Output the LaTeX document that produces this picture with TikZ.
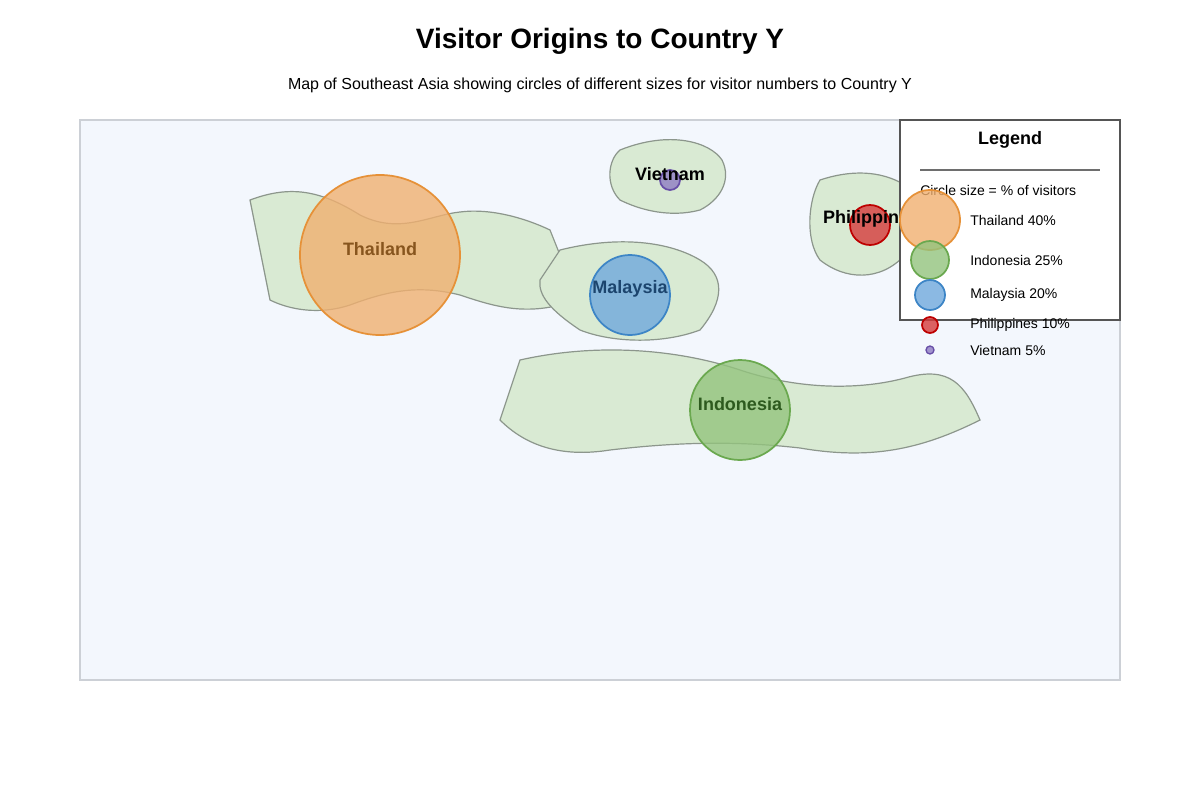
\documentclass[tikz,border=0pt]{standalone}
\usepackage{fontspec}
\setmainfont{Liberation Sans}
\begin{document}
\begin{tikzpicture}[x=0.75pt,y=-0.75pt,
  land/.style={fill={rgb,255:red,217;green,234;blue,211}, draw={rgb,255:red,140;green,150;blue,140}, line width=0.9pt},
  bub/.style={circle, draw, line width=1.3pt, fill opacity=0.8, inner sep=0pt},
  lbl/.style={font=\bfseries\fontsize{13.5}{16}\selectfont},
  leg/.style={font=\fontsize{10.5}{12}\selectfont, anchor=west}]
\definecolor{orF}{RGB}{240,176,112}\definecolor{orD}{RGB}{230,145,56}
\definecolor{grF}{RGB}{147,196,125}\definecolor{grD}{RGB}{106,168,79}
\definecolor{blF}{RGB}{111,168,220}\definecolor{blD}{RGB}{61,133,198}
\definecolor{rdF}{RGB}{214,60,60}\definecolor{rdD}{RGB}{190,0,0}
\definecolor{puF}{RGB}{142,124,195}\definecolor{puD}{RGB}{103,78,167}
\useasboundingbox (0,0) rectangle (1200,800);
\node[font=\bfseries\fontsize{21}{25}\selectfont] (title) at (600,41) {Visitor Origins to Country Y};
\node[font=\fontsize{12}{15}\selectfont] (sub) at (600,85) {Map of Southeast Asia showing circles of different sizes for visitor numbers to Country Y};
\draw[fill={rgb,255:red,243;green,247;blue,253}, draw={rgb,255:red,204;green,208;blue,214}, line width=1pt] (80,120) rectangle (1120,680);
% land
\draw[land] (250,200) .. controls (290,185) and (320,190) .. (360,215) .. controls (400,235) and (430,215) .. (460,212) .. controls (490,208) and (525,218) .. (550,230) -- (560,255) -- (560,305) .. controls (520,315) and (490,305) .. (460,295) .. controls (420,285) and (390,290) .. (350,305) .. controls (320,315) and (290,310) .. (270,300) -- cycle;
\draw[land] (560,250) .. controls (620,235) and (670,242) .. (700,260) .. controls (725,275) and (725,300) .. (700,330) .. controls (660,345) and (610,342) .. (580,330) .. controls (550,310) and (538,295) .. (540,280) -- cycle;
\draw[land] (620,150) .. controls (670,130) and (710,142) .. (722,160) .. controls (732,180) and (720,200) .. (700,210) .. controls (670,218) and (640,210) .. (620,200) .. controls (605,185) and (608,160) .. (620,150) -- cycle;
\draw[land] (820,180) .. controls (850,170) and (880,170) .. (905,185) -- (905,255) .. controls (880,282) and (845,280) .. (820,260) .. controls (805,240) and (808,200) .. (820,180) -- cycle;
\draw[land] (520,360) .. controls (600,342) and (680,350) .. (740,370) .. controls (800,390) and (860,390) .. (905,378) .. controls (950,365) and (965,385) .. (980,420) .. controls (920,450) and (870,460) .. (800,448) .. controls (730,440) and (670,443) .. (610,450) .. controls (560,458) and (525,445) .. (500,420) -- cycle;
% bubbles
\node[bub, draw=orD, fill=orF, minimum size=160*0.75pt] (cth) at (380,255) {};
\node[bub, draw=blD, fill=blF, minimum size=80*0.75pt] (cmy) at (630,295) {};
\node[bub, draw=grD, fill=grF, minimum size=100*0.75pt] (cid) at (740,410) {};
\node[bub, draw=rdD, fill=rdF, minimum size=40*0.75pt] (cph) at (870,225) {};
\node[bub, draw=puD, fill=puF, minimum size=20*0.75pt] (cvn) at (670,180) {};
\node[lbl] (tph) at (871,219) {Philippines};
\node[lbl] (tvn) at (670,174) {Vietnam};
\node[lbl, text={rgb,255:red,135;green,85;blue,30}] (tth) at (380,249) {Thailand};
\node[lbl, text={rgb,255:red,28;green,69;blue,110}] (tmy) at (630,289) {Malaysia};
\node[lbl, text={rgb,255:red,45;green,90;blue,30}] (tid) at (740,404) {Indonesia};
% legend
\draw[fill=white, draw={rgb,255:red,85;green,85;blue,85}, line width=1.2pt] (900,120) rectangle (1120,320);
\node[font=\bfseries\fontsize{13.5}{16}\selectfont] (lt) at (1010,140) {Legend};
\draw[draw={rgb,255:red,110;green,110;blue,110}, line width=1.2pt] (920,170) -- (1100,170);
\node[leg, inner sep=0pt] (lsub) at (920,190) {Circle size = \% of visitors};
\node[bub, draw=orD, fill=orF, minimum size=60*0.75pt] (l1) at (930,220) {};
\node[bub, draw=grD, fill=grF, minimum size=38*0.75pt] (l2) at (930,260) {};
\node[bub, draw=blD, fill=blF, minimum size=30*0.75pt] (l3) at (930,295) {};
\node[bub, draw=rdD, fill=rdF, minimum size=16*0.75pt] (l4) at (930,325) {};
\node[bub, draw=puD, fill=puF, minimum size=8*0.75pt, line width=1pt] (l5) at (930,350) {};
\node[leg, inner sep=0pt] (t1) at (970,220) {Thailand 40\%};
\node[leg, inner sep=0pt] (t2) at (970,260) {Indonesia 25\%};
\node[leg, inner sep=0pt] (t3) at (970,295) {Malaysia 20\%};
\node[leg, inner sep=0pt] (t4) at (970,325) {Philippines 10\%};
\node[leg, inner sep=0pt] (t5) at (970,350) {Vietnam 5\%};
\end{tikzpicture}
\end{document}
